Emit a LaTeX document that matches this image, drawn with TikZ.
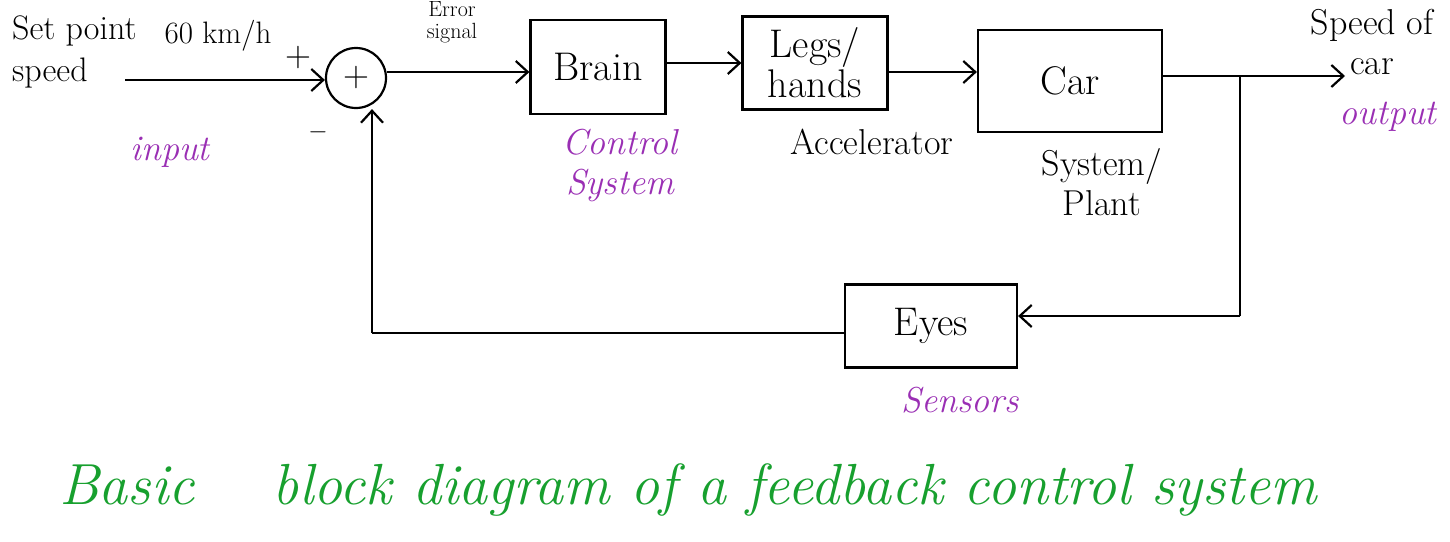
\documentclass[tikz,border=0pt]{standalone}
\usepackage{fontspec}
\usetikzlibrary{arrows.meta}
\definecolor{lblpurple}{HTML}{9A2FB4}
\definecolor{capgreen}{HTML}{17A02E}
\begin{document}
\begin{tikzpicture}[x=1pt,y=-1pt,
  blockbox/.style={draw, line width=2.2pt, inner sep=0pt, font=\fontsize{40}{40}\selectfont, align=center},
  wire/.style={line width=2.2pt},
  arr/.style={wire, -{Straight Barb[length=12pt,width=22pt,line width=2.2pt]}},
  blacklbl/.style={font=\fontsize{36}{40}\selectfont, align=center, inner sep=0pt},
  purplelbl/.style={font=\fontsize{36}{40}\selectfont\itshape, text=lblpurple, align=center, inner sep=0pt},
  smalllbl/.style={font=\fontsize{22}{22}\selectfont, align=center, inner sep=0pt}]
\useasboundingbox (0,0) rectangle (1450,541);
\fill[white] (0,0) rectangle (1450,541);

% summing junction
\node[draw, circle, line width=2.2pt, minimum size=60pt, inner sep=0pt, font=\fontsize{36}{36}\selectfont] (sum) at (356,78) {+};

% blocks
\node[blockbox, minimum width=135pt, minimum height=94pt] (brain) at (598,67) {Brain};
\node[blockbox, minimum width=145pt, minimum height=93pt] (legs) at (815,63) {Legs/\\hands};
\node[blockbox, minimum width=184pt, minimum height=102pt] (car) at (1070,81) {Car};
\node[blockbox, minimum width=172pt, minimum height=83pt] (eyes) at (931,326) {Eyes};

% coordinates
\coordinate (inp) at (125,80);
\coordinate (branch) at (1240,76);
\coordinate (out) at (1345,76);
\coordinate (fbr) at (1240,316);
\coordinate (fbl) at (372,333);

% connectors
\draw[arr] (inp) -- (sum.west |- inp);
\draw[arr] (sum.east |- 0,72) -- (brain.west |- 0,72);
\draw[arr] (brain.east |- 0,63) -- (legs.west |- 0,63);
\draw[arr] (legs.east |- 0,72) -- (car.west |- 0,72);
\draw[wire] (car.east |- branch) -- (branch);
\draw[arr] (branch) -- (out);
\draw[wire] (branch) -- (fbr);
\draw[arr] (fbr) -- (eyes.east |- fbr);
\draw[wire] (eyes.west |- fbl) -- (fbl);
\draw[arr] (fbl) -- (fbl |- sum.south);

% labels
\node[blacklbl, align=left, anchor=west, font=\fontsize{34}{42}\selectfont] (setpt) at (12,52) {Set point\\speed};
\node[blacklbl, font=\fontsize{31}{36}\selectfont] (kmh) at (218,36) {60 km/h};
\node[blacklbl] (plus) at (298,58) {+};
\node[blacklbl] (minus) at (318,132) {$-$};
\node[purplelbl] (input) at (170,152) {input};
\node[smalllbl] (err) at (452,22) {Error\\signal};
\node[purplelbl] (ctrl) at (620,165) {Control\\System};
\node[blacklbl] (acc) at (872,142) {Accelerator};
\node[blacklbl] (plant) at (1102,182) {System/\\Plant};
\node[blacklbl] (spd) at (1372,42) {Speed of\\car};
\node[purplelbl] (outl) at (1388,117) {output};
\node[purplelbl] (sens) at (960,400) {Sensors};
\node[font=\fontsize{58}{60}\selectfont\itshape, text=capgreen, inner sep=0pt] (cap) at (688,490) {Basic\quad\ block diagram of a feedback control system};
\end{tikzpicture}
\end{document}
